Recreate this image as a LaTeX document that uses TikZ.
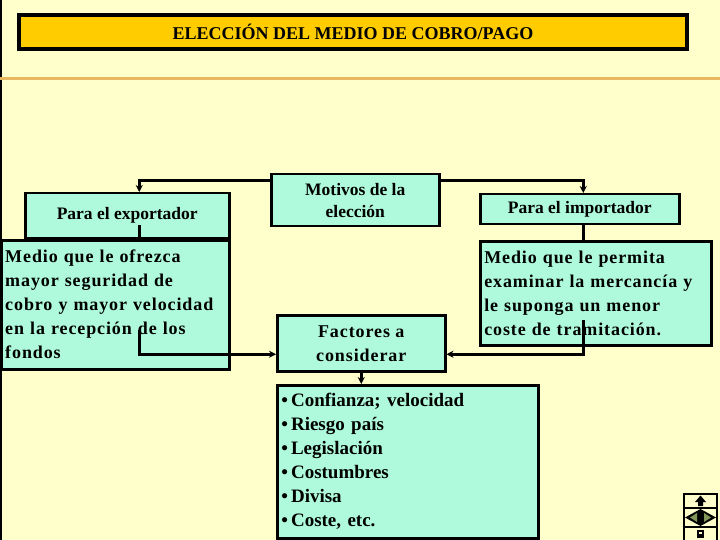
\documentclass[tikz,border=0pt]{standalone}
\usepackage{fontspec}
\setmainfont{Liberation Serif}
\newfontfamily\spc{Liberation Serif}[LetterSpace=5]
\usetikzlibrary{arrows.meta}
\definecolor{bg}{RGB}{255,255,204}
\definecolor{boxc}{RGB}{175,250,220}
\definecolor{gold}{RGB}{255,204,0}
\definecolor{orl}{RGB}{232,184,96}
\definecolor{navg}{RGB}{130,150,90}
\tikzset{
 box/.style={draw=black, line width=2.5pt, fill=boxc, anchor=north west, inner sep=0pt, align=center, font={\bfseries\fontsize{17.5}{22}\selectfont}},
 bigbox/.style={box, align=left, inner xsep=4pt, font={\spc\bfseries\fontsize{18}{24}\selectfont}},
 listbox/.style={box, align=left, inner xsep=4pt, font={\bfseries\fontsize{19}{24}\selectfont}},
 conn/.style={line width=3pt},
 arr/.style={conn, -{Stealth[length=7pt,width=7pt]}},
}
\begin{document}
\begin{tikzpicture}[x=1pt,y=-1pt]
\fill[bg] (0,0) rectangle (720,540);
\useasboundingbox (0,0) rectangle (720,540);
\draw[line width=2pt] (1,0) -- (1,540);
\draw[orl, line width=3pt] (0,79) -- (720,79);
% title
\node[draw=black, line width=4pt, fill=gold, anchor=north west, minimum width=668pt, minimum height=34pt, inner sep=0pt, font={\bfseries\fontsize{18}{20}\selectfont}] (title) at (17,13) {ELECCIÓN DEL MEDIO DE COBRO/PAGO};
% boxes
\node[box, minimum width=204pt, minimum height=45pt] (exp) at (24,192) {Para el exportador};
\node[box, minimum width=168pt, minimum height=52pt] (mot) at (270,173) {Motivos de la\\elección};
\node[box, minimum width=199pt, minimum height=30pt] (imp) at (479,193) {Para el importador};
\coordinate (exS) at ([xshift=12pt]exp.south);
\coordinate (exN) at ([xshift=12pt]exp.north);
\coordinate (imS) at ([xshift=3.5pt]imp.south);
\coordinate (imN) at ([xshift=3.5pt]imp.north);
\draw[conn] ([yshift=14pt]exS) -- ++(0,16);
\draw[conn] (imS) -- ++(0,18);
\node[bigbox, text width=220pt, minimum height=129pt] (expm) at (0,239) {Medio que le ofrezca\\mayor seguridad de\\cobro y mayor velocidad\\en la recepción de los\\fondos};
\node[bigbox, text width=223pt, minimum height=104pt] (impm) at (479,240) {Medio que le permita\\examinar la mercancía y\\le suponga un menor\\coste de tramitación.};
\node[box, minimum width=168pt, minimum height=56pt, font={\spc\bfseries\fontsize{18}{24}\selectfont}] (fact) at (276,314) {Factores a\\considerar};
\node[listbox, text width=253pt, minimum height=153pt] (list) at (276,384) {•\,Confianza; velocidad\\•\,Riesgo país\\•\,Legislación\\•\,Costumbres\\•\,Divisa\\•\,Coste, etc.};
% connectors
\draw[arr] ([yshift=-8pt]mot.north west) -| (exN);
\draw[arr] ([yshift=-8pt]mot.north east) -| (imN);
\coordinate (fw) at ([yshift=-11pt]fact.west);
\coordinate (fe) at ([yshift=-11pt]fact.east);
\path (exS) ++(0,90) coordinate (etop);
\path (imS) ++(0,94) coordinate (itop);
\draw[arr] (etop) |- (fw);
\draw[arr] (itop) |- (fe);
\draw[arr] (fact.south) -- (list.north -| fact.south);
% navigation icon
\fill[black] (683,493) rectangle (718,540);
\fill[bg] (685,495) rectangle (716,507);
\fill[black] (700.5,495.5) -- (706,502) -- (703,502) -- (703,506) -- (698,506) -- (698,502) -- (695,502) -- cycle;
\fill[bg] (685,509) rectangle (716,526);
\fill[black] (685,517.5) -- (700.5,509) -- (716,517.5) -- (700.5,526) -- cycle;
\fill[navg] (690,517.5) -- (697,513) -- (697,522) -- cycle;
\fill[navg] (711,517.5) -- (704,513) -- (704,522) -- cycle;
\fill[bg] (685,528) rectangle (716,540);
\fill[black] (697,530) rectangle (704,538);
\fill[bg] (699,532) rectangle (702,533.5);
\end{tikzpicture}
\end{document}
